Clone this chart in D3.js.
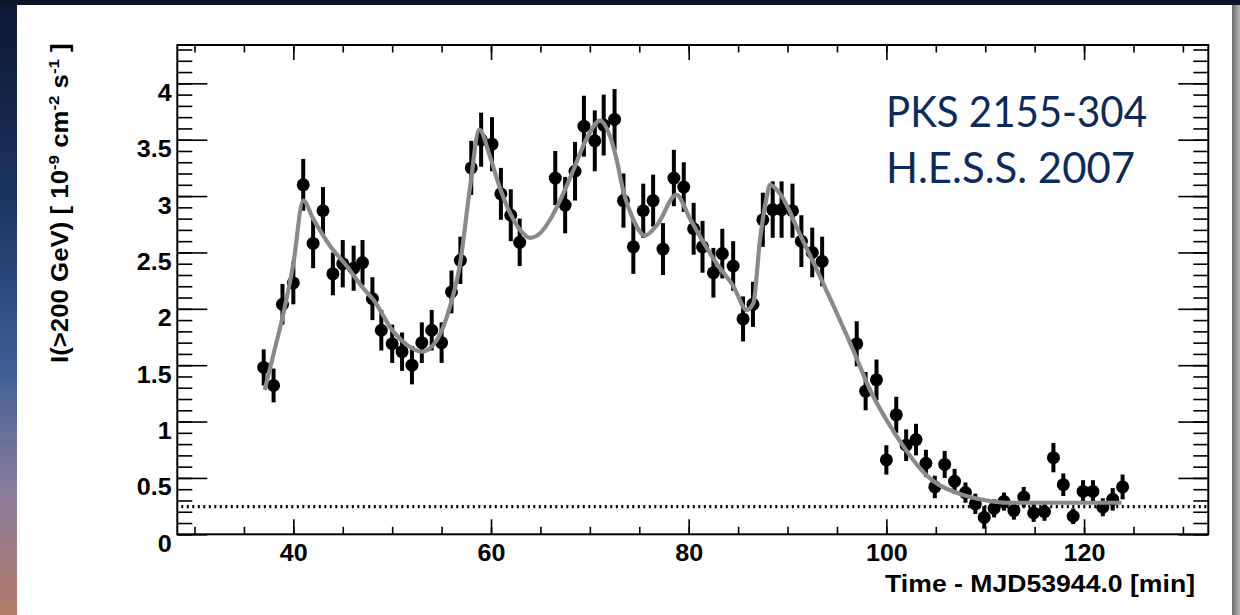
<!DOCTYPE html>
<html>
<head>
<meta charset="utf-8">
<title>PKS 2155-304 light curve</title>
<script src="https://d3js.org/d3.v7.min.js"></script>
<style>
  body { margin: 0; background: #fff; }
  svg { display: block; }
  .tick text { font-family: "Liberation Sans", Arial, sans-serif; font-weight: bold; font-size: 23.5px; fill: #000; }
  .tick line { stroke: #000; stroke-width: 1.6px; }
  .title { font-family: "Liberation Sans", Arial, sans-serif; font-weight: bold; font-size: 23px; fill: #000; }
  .tag { font-family: Lato, "Open Sans", sans-serif; font-size: 42px; fill: #0b2b5c; }
</style>
</head>
<body>
<svg id="chart" width="1240" height="615"></svg>
<script>
// measured points, time in minutes after MJD53944.0
var time = [37.0, 38.0, 38.9, 40.0, 41.0, 42.0, 43.0, 44.0, 45.0, 46.1, 47.0, 48.0, 48.9, 50.0, 51.0,
  52.0, 53.0, 54.0, 55.0, 56.0, 56.9, 58.0, 59.0, 60.1, 61.0, 62.0, 62.9, 66.5, 67.5, 68.5,
  69.4, 70.5, 71.4, 72.5, 73.4, 74.4, 75.4, 76.4, 77.4, 78.5, 79.5, 80.5, 81.4, 82.5, 83.4,
  84.5, 85.5, 86.5, 87.5, 88.5, 89.4, 90.5, 91.4, 92.5, 93.5, 97.0, 97.9, 99.0, 100.0, 101.0,
  102.0, 103.0, 104.0, 104.9, 105.9, 106.9, 108.0, 109.0, 109.9, 110.9, 111.9, 112.9, 113.9, 114.9, 116.0,
  116.9, 117.9, 118.9, 119.9, 120.9, 121.9, 122.9, 123.9];
var flux = [1.48, 1.32, 2.04, 2.23, 3.10, 2.58, 2.87, 2.31, 2.40, 2.36, 2.41, 2.09, 1.81, 1.69, 1.62,
  1.50, 1.70, 1.81, 1.70, 2.15, 2.43, 3.25, 3.50, 3.46, 3.02, 2.83, 2.59, 3.16, 2.92, 3.22,
  3.62, 3.49, 3.63, 3.68, 2.96, 2.55, 2.87, 2.96, 2.53, 3.16, 3.08, 2.71, 2.55, 2.32, 2.49,
  2.38, 1.91, 2.04, 2.79, 2.88, 2.88, 2.87, 2.60, 2.50, 2.42, 1.69, 1.27, 1.37, 0.66, 1.06,
  0.79, 0.84, 0.63, 0.42, 0.62, 0.47, 0.37, 0.27, 0.15, 0.23, 0.29, 0.21, 0.33, 0.19, 0.20,
  0.68, 0.44, 0.16, 0.38, 0.38, 0.24, 0.31, 0.42];
var fluxErr = [0.16, 0.15, 0.18, 0.19, 0.23, 0.22, 0.21, 0.19, 0.21, 0.20, 0.20, 0.19, 0.18, 0.17, 0.17,
  0.17, 0.18, 0.18, 0.18, 0.19, 0.21, 0.24, 0.24, 0.24, 0.23, 0.23, 0.21, 0.24, 0.25, 0.26,
  0.27, 0.27, 0.27, 0.27, 0.24, 0.24, 0.24, 0.23, 0.23, 0.25, 0.22, 0.23, 0.23, 0.22, 0.22,
  0.22, 0.20, 0.20, 0.24, 0.25, 0.25, 0.24, 0.23, 0.22, 0.22, 0.20, 0.17, 0.18, 0.13, 0.16,
  0.14, 0.14, 0.12, 0.10, 0.12, 0.11, 0.09, 0.09, 0.10, 0.08, 0.08, 0.08, 0.09, 0.08, 0.08,
  0.13, 0.10, 0.07, 0.10, 0.10, 0.08, 0.10, 0.11];

// fitted curve
var fitTime = [37.1, 38.0, 39.0, 40.0, 41.0, 42.0, 43.7, 45.4, 47.1, 48.1, 50.1, 51.5, 53.0, 54.5, 55.85,
  56.87, 57.88, 58.82, 59.9, 60.91, 61.93, 62.94, 63.95, 64.96, 65.97, 66.98, 68.33, 69.68, 71.03, 72.04,
  72.72, 73.39, 74.4, 75.58, 76.85, 78.75, 80.13, 81.15, 82.84, 84.52, 85.87, 86.54, 87.21, 87.89, 88.23,
  89.24, 91.26, 92.95, 94.63, 96.66, 98.35, 100.04, 101.72, 103.4, 105.1, 106.78, 108.46, 110.15, 112.18, 116.9, 123.8];
var fitFlux = [1.28, 1.60, 1.96, 2.40, 2.96, 2.80, 2.56, 2.38, 2.18, 2.08, 1.80, 1.68, 1.62, 1.72, 2.02,
  2.40, 3.08, 3.59, 3.35, 3.07, 2.85, 2.70, 2.63, 2.67, 2.79, 2.96, 3.23, 3.51, 3.67, 3.53,
  3.32, 3.04, 2.79, 2.65, 2.75, 3.01, 2.80, 2.64, 2.40, 2.20, 1.99, 2.05, 2.61, 2.99, 3.10,
  3.02, 2.66, 2.35, 2.03, 1.63, 1.28, 1.01, 0.78, 0.585, 0.45, 0.38, 0.33, 0.30, 0.28, 0.28, 0.28];

var baseline = 0.245;

var xMajor = [40, 60, 80, 100, 120];
var xMinor = d3.range(30, 133, 5);
var yMajor = [0, 0.5, 1, 1.5, 2, 2.5, 3, 3.5, 4];
var yMinor = d3.range(0, 4.35, 0.1);
var yMajorLabels = ["0", "0.5", "1", "1.5", "2", "2.5", "3", "3.5", "4"];

var svg = d3.select("#chart");

// backdrop: a strip of the slide background around the white panel
var defs = svg.append("defs");
var lg = defs.append("linearGradient").attr("id", "sky").attr("x1", 0).attr("y1", 0).attr("x2", 0).attr("y2", 1);
lg.append("stop").attr("offset", "0%").attr("stop-color", "#0c1830");
lg.append("stop").attr("offset", "35%").attr("stop-color", "#1d3766");
lg.append("stop").attr("offset", "60%").attr("stop-color", "#3f5f95");
lg.append("stop").attr("offset", "80%").attr("stop-color", "#8a7c9c");
lg.append("stop").attr("offset", "100%").attr("stop-color", "#b27a66");
var rg = defs.append("linearGradient").attr("id", "edge").attr("x1", 0).attr("y1", 0).attr("x2", 1).attr("y2", 0);
rg.append("stop").attr("offset", "0%").attr("stop-color", "#6e6e6e");
rg.append("stop").attr("offset", "100%").attr("stop-color", "#b8b8b8");

svg.append("rect").attr("width", 1240).attr("height", 615).attr("fill", "#fff");
svg.append("rect").attr("x", 0).attr("y", 0).attr("width", 17).attr("height", 615).attr("fill", "url(#sky)");
svg.append("rect").attr("x", 0).attr("y", 0).attr("width", 1240).attr("height", 5).attr("fill", "#0d1629");
svg.append("rect").attr("x", 1232).attr("y", 5).attr("width", 8).attr("height", 610).attr("fill", "url(#edge)");

var padL = 177.3, padR = 1208.3, padT = 45, padB = 534.3;

var x = d3.scaleLinear().domain([28.26, 132.57]).range([padL, padR]);
var y = d3.scaleLinear().domain([0, 4.34]).range([padB, padT]);

function clean(g) { g.select(".domain").remove(); }

// x axes (bottom + top), ticks pointing inward
svg.append("g").attr("transform", "translate(0," + padB + ")")
  .call(d3.axisBottom(x).tickValues(xMinor).tickSizeInner(-7.5).tickSizeOuter(0).tickFormat(""))
  .call(clean);
svg.append("g").attr("transform", "translate(0," + padB + ")")
  .call(d3.axisBottom(x).tickValues(xMajor).tickSizeInner(-15).tickSizeOuter(0).tickFormat(d3.format("d")))
  .call(clean)
  .call(function(g) {
    g.selectAll("text").attr("y", 26.6).attr("dy", 0).attr("transform", "scale(1.07,1)");
  });
svg.append("g").attr("transform", "translate(0," + padT + ")")
  .call(d3.axisTop(x).tickValues(xMinor).tickSizeInner(-7.5).tickSizeOuter(0).tickFormat(""))
  .call(clean);
svg.append("g").attr("transform", "translate(0," + padT + ")")
  .call(d3.axisTop(x).tickValues(xMajor).tickSizeInner(-15).tickSizeOuter(0).tickFormat(""))
  .call(clean);

// y axes (left + right)
svg.append("g").attr("transform", "translate(" + padL + ",0)")
  .call(d3.axisLeft(y).tickValues(yMinor).tickSizeInner(-15).tickSizeOuter(0).tickFormat(""))
  .call(clean);
svg.append("g").attr("transform", "translate(" + padL + ",0)")
  .call(d3.axisLeft(y).tickValues(yMajor).tickSizeInner(-30).tickSizeOuter(0)
    .tickFormat(function(d, i) { return yMajorLabels[i]; }))
  .call(clean)
  .call(function(g) {
    g.selectAll("text").attr("x", -5.2).attr("y", 17).attr("dy", 0)
      .attr("text-anchor", "end").attr("transform", "scale(1.07,1)");
  });
svg.append("g").attr("transform", "translate(" + padR + ",0)")
  .call(d3.axisRight(y).tickValues(yMinor).tickSizeInner(-15).tickSizeOuter(0).tickFormat(""))
  .call(clean);
svg.append("g").attr("transform", "translate(" + padR + ",0)")
  .call(d3.axisRight(y).tickValues(yMajor).tickSizeInner(-30).tickSizeOuter(0).tickFormat(""))
  .call(clean);

// frame
svg.append("rect")
  .attr("x", padL).attr("y", padT)
  .attr("width", padR - padL).attr("height", padB - padT)
  .attr("fill", "none").attr("stroke", "#000").attr("stroke-width", 2);

// dotted baseline level
svg.append("line")
  .attr("x1", padL + 4).attr("x2", padR - 2)
  .attr("y1", y(baseline)).attr("y2", y(baseline))
  .attr("stroke", "#000").attr("stroke-width", 3.2).attr("stroke-dasharray", "2,3.5");

// data points with error bars
var pts = time.map(function(t, i) { return { t: t, v: flux[i], e: fluxErr[i] }; });
var pg = svg.append("g");
pg.selectAll("line.err").data(pts).enter().append("line")
  .attr("class", "err")
  .attr("x1", function(d) { return x(d.t); }).attr("x2", function(d) { return x(d.t); })
  .attr("y1", function(d) { return y(d.v - d.e); }).attr("y2", function(d) { return y(d.v + d.e); })
  .attr("stroke", "#000").attr("stroke-width", 4);
pg.selectAll("circle").data(pts).enter().append("circle")
  .attr("cx", function(d) { return x(d.t); })
  .attr("cy", function(d) { return y(d.v); })
  .attr("r", 6.5).attr("fill", "#000");

// fit curve on top
var fit = fitTime.map(function(t, i) { return [t, fitFlux[i]]; });
svg.append("path")
  .datum(fit)
  .attr("d", d3.line().x(function(d) { return x(d[0]); }).y(function(d) { return y(d[1]); }).curve(d3.curveMonotoneX))
  .attr("fill", "none").attr("stroke", "#8a8a8a").attr("stroke-width", 4.2).attr("stroke-linejoin", "round");

// axis titles
var xt = svg.append("text").attr("class", "title").attr("text-anchor", "end")
  .text("Time - MJD53944.0 [min]");
var xs = 310 / xt.node().getComputedTextLength();
xt.attr("transform", "translate(1195,591.7) scale(" + xs + ",1)");

var yt = svg.append("text").attr("class", "title").attr("text-anchor", "end");
yt.append("tspan").text("I(>200 GeV) [ 10");
yt.append("tspan").attr("font-size", 15).attr("dy", -9).text("-9");
yt.append("tspan").attr("dy", 9).text(" cm");
yt.append("tspan").attr("font-size", 15).attr("dy", -9).text("-2");
yt.append("tspan").attr("dy", 9).text(" s");
yt.append("tspan").attr("font-size", 15).attr("dy", -9).text("-1");
yt.append("tspan").attr("dy", 9).text(" ]");
var ys = 320 / yt.node().getComputedTextLength();
yt.attr("transform", "translate(68.3,43.3) rotate(-90) scale(" + ys + ",1)");

// source label
svg.append("text").attr("class", "tag").attr("x", 886).attr("y", 127.3)
  .attr("textLength", 261).attr("lengthAdjust", "spacingAndGlyphs").text("PKS 2155-304");
svg.append("text").attr("class", "tag").attr("x", 886).attr("y", 183.3)
  .attr("textLength", 249).attr("lengthAdjust", "spacingAndGlyphs").text("H.E.S.S. 2007");
</script>
</body>
</html>
